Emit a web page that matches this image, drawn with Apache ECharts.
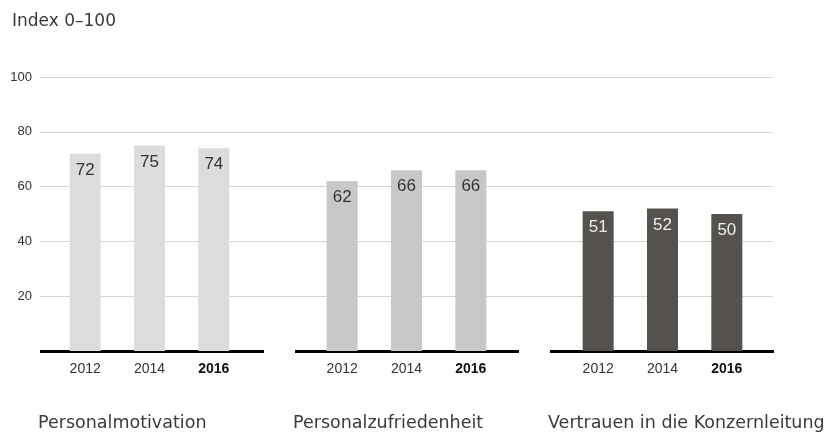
<!DOCTYPE html>
<html>
<head>
<meta charset="utf-8">
<script src="https://cdn.jsdelivr.net/npm/echarts@6/dist/echarts.min.js"></script>
<style>html,body{margin:0;padding:0;background:#fff}#c{width:830px;height:441px}</style>
</head>
<body>
<div id="c"></div>
<script>
const yearLabels = ['2012', '2014', '2016'];
const groupNames = ['Personalmotivation', 'Personalzufriedenheit', 'Vertrauen in die Konzernleitung'];
const motivation = [72, 75, 74];
const zufriedenheit = [62, 66, 66];
const vertrauen = [51, 52, 50];
const yTickLabels = [20, 40, 60, 80, 100];
const titleText = 'Index 0–100';

const seriesValues = [motivation, zufriedenheit, vertrauen];
const barColors = ['#dcdcdc', '#c8c8c7', '#55524d'];
const labelColors = ['#333333', '#333333', '#eeeeee'];
const baseLeft = [40, 295, 550];
const barLeft = [53, 310, 566];
const FONT = '"Liberation Sans", Arial, sans-serif';
const WIDE = '"DejaVu Sans", sans-serif';
const TOP = 77, BOTTOM = 90;

const grids = [{ left: 40, right: 57, top: TOP, bottom: BOTTOM }];
const xAxes = [{ gridIndex: 0, type: 'category', data: [''], show: false }];
const yAxes = [{
  gridIndex: 0, type: 'value', min: 0, max: 100, interval: 20,
  axisLine: { show: false }, axisTick: { show: false },
  axisLabel: {
    fontFamily: FONT, fontSize: 13, color: '#333', margin: 8,
    formatter: v => (yTickLabels.indexOf(v) >= 0 ? String(v) : '')
  },
  splitLine: { lineStyle: { color: ['rgba(0,0,0,0)', '#d4d4d4', '#d4d4d4', '#d4d4d4', '#d4d4d4', '#d4d4d4'], width: 1 } }
}];
const series = [];
const titles = [{ text: titleText, left: 7, top: 8, textStyle: { fontFamily: WIDE, fontSize: 17, fontWeight: 'normal', color: '#3a3a3a' } }];

for (let g = 0; g < 3; g++) {
  grids.push({ left: baseLeft[g], width: 224, top: TOP, bottom: BOTTOM });
  const bi = grids.length - 1;
  xAxes.push({ gridIndex: bi, type: 'category', data: yearLabels,
    axisLine: { show: true, lineStyle: { color: '#000', width: 3, cap: 'butt' } },
    axisTick: { show: false }, axisLabel: { show: false } });
  yAxes.push({ gridIndex: bi, type: 'value', min: 0, max: 100, show: false, splitLine: { show: false } });
  grids.push({ left: barLeft[g], width: 193, top: TOP, bottom: BOTTOM });
  const gi = grids.length - 1;
  xAxes.push({ gridIndex: gi, type: 'category', data: yearLabels,
    axisLine: { show: false }, axisTick: { show: false },
    axisLabel: {
      interval: 0,
      fontFamily: FONT, fontSize: 14, color: '#333', margin: 11,
      formatter: (v, i) => (i === yearLabels.length - 1 ? '{b|' + v + '}' : v),
      rich: { b: { fontFamily: FONT, fontSize: 14, fontWeight: 'bold', color: '#111' } }
    } });
  yAxes.push({ gridIndex: gi, type: 'value', min: 0, max: 100, show: false, splitLine: { show: false } });
  series.push({
    type: 'bar', xAxisIndex: gi, yAxisIndex: gi, data: seriesValues[g],
    barWidth: 31, itemStyle: { color: barColors[g] },
    label: { show: true, position: 'insideTop', distance: 8, fontFamily: FONT, fontSize: 17, color: labelColors[g] },
    z: 3
  });
  titles.push({ text: groupNames[g], left: baseLeft[g] - 7, top: 409,
    textStyle: { fontFamily: WIDE, fontSize: 17.5, fontWeight: 'normal', color: '#3a3a3a' } });
}

const chart = echarts.init(document.getElementById('c'));
chart.setOption({
  animation: false,
  backgroundColor: '#fff',
  title: titles,
  grid: grids,
  xAxis: xAxes,
  yAxis: yAxes,
  series: series
});
</script>
</body>
</html>
